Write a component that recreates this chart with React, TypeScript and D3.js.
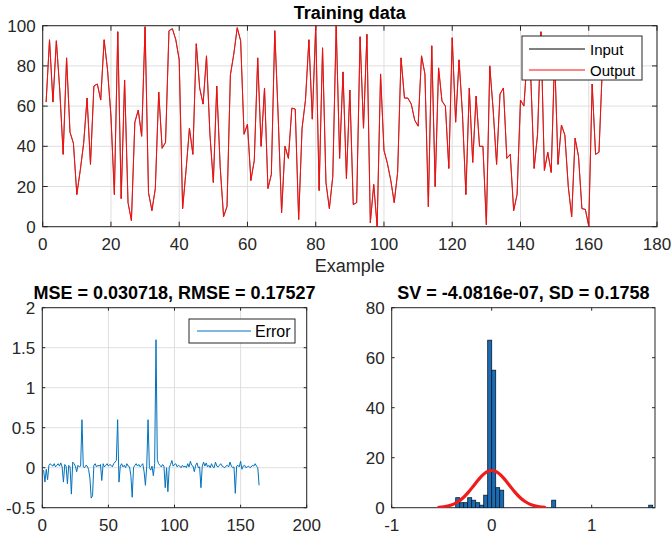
import React from 'react';
import * as d3 from 'd3';

// ---------- DATA ----------
const TRAINING = [
  62, 93, 62, 92.5, 68, 36, 84, 47, 41.5, 16, 28, 41.5, 64, 31, 70, 71, 63, 93, 78, 55,
  16, 97, 14, 73, 12, 3, 52, 58, 45, 99.5, 17, 8, 19, 67, 39, 42, 97.5, 98.5, 93, 83,
  9, 28, 49, 36, 91, 69, 61, 85, 46, 22, 70, 30, 5, 10, 75.5, 86, 99, 92.5, 46, 51,
  23, 33, 84, 40, 69, 19, 26, 97.5, 55, 7, 40, 34, 59, 58.5, 3.6, 49, 63, 93, 53.5, 100,
  18, 89, 22, 9, 25, 100, 34, 77, 24, 68, 11, 12, 94.5, 49, 95.7, 2, 21, 0, 76, 38,
  31.5, 23, 12, 27, 84, 64, 64, 61, 53, 50, 85, 76, 10, 90, 20, 79, 62.5, 60, 29, 94,
  52, 83, 56, 16, 69, 32, 65, 40, 40, 1, 80, 58, 31, 66, 69, 34, 36, 8, 16, 63,
  60, 85, 75, 29, 46, 97, 28, 37, 27, 85, 31, 50.6, 45.6, 20, 5, 44, 35, 9, 8.6, 0.3,
  71, 36, 37, 80,
];

const ERRORS = [
  -0.03, -0.18, -0.02, -0.15, 0.03, 0.05, 0.03, 0.02, 0.05, 0.01, 0.03, 0.05, 0.02, 0.06, 0.01, -0.18, 0.04, 0.02, -0.2, 0.03,
  0.01, -0.33, 0.07, 0.05, 0.02, -0.05, 0.03, 0.01, 0.02, 0.6, 0.01, 0.0, 0.03, 0.02, -0.02, -0.13, -0.38, -0.35, 0.03, 0.05,
  0.01, 0.03, 0.02, 0.04, -0.16, 0.05, 0.01, 0.03, 0.05, 0.02, 0.04, 0.03, 0.01, 0.05, 0.07, 0.09, 0.6, -0.18, 0.02, 0.05,
  0.01, 0.03, 0.0, 0.05, 0.02, 0.01, -0.1, -0.37, 0.0, 0.03, 0.05, 0.02, 0.04, 0.01, 0.03, 0.05, -0.05, -0.22, 0.02, 0.6,
  0.0, -0.03, 0.02, -0.1, 0.05, 1.6, 0.1, 0.05, 0.03, 0.01, 0.04, 0.02, -0.25, 0.0, -0.3, 0.0, 0.04, 0.09, 0.02, 0.04,
  0.05, 0.01, 0.03, 0.02, 0.0, 0.03, 0.01, 0.02, 0.0, 0.05, 0.01, 0.08, 0.03, 0.02, -0.05, 0.03, 0.06, 0.0, 0.01, -0.25,
  0.02, 0.07, 0.02, 0.06, 0.01, 0.03, 0.0, 0.05, 0.01, 0.0, 0.07, 0.02, 0.01, 0.03, 0.05, 0.02, 0.01, 0.0, 0.02, 0.03,
  0.01, 0.07, 0.02, 0.0, 0.01, -0.32, 0.02, 0.03, 0.01, 0.08, -0.02, 0.02, 0.03, 0.0, 0.01, 0.02, 0.0, 0.01, 0.03, 0.02,
  0.05, 0.02, 0.0, -0.22,
];

const HIST_LEFT = [-0.36, -0.32, -0.28, -0.24, -0.2, -0.16, -0.12, -0.08, -0.04, 0, 0.04, 0.08, 0.6, 1.57];
const HIST_COUNTS = [4, 2, 2, 4, 3, 2, 1, 5, 67, 55, 8, 7, 3, 1];
const HIST_BIN = 0.04;

const FIT_X = [-0.53, -0.48, -0.43, -0.38, -0.33, -0.28, -0.23, -0.18, -0.13, -0.08, -0.03, 0,
  0.03, 0.08, 0.13, 0.18, 0.23, 0.28, 0.33, 0.38, 0.43, 0.48, 0.53];
const FIT_Y = [0.16, 0.36, 0.75, 1.44, 2.56, 4.19, 6.33, 8.82, 11.33, 13.43, 14.67, 14.89,
  14.67, 13.43, 11.33, 8.82, 6.33, 4.19, 2.56, 1.44, 0.75, 0.36, 0.16];

const TOP_X_TICKS = [0, 20, 40, 60, 80, 100, 120, 140, 160, 180];
const TOP_Y_TICKS = [0, 20, 40, 60, 80, 100];
const ERR_X_TICKS = [0, 50, 100, 150, 200];
const ERR_Y_TICKS = [-0.5, 0, 0.5, 1, 1.5, 2];
const HIST_X_TICKS = [-1, 0, 1];
const HIST_Y_TICKS = [0, 20, 40, 60, 80];

const TITLE_TOP = 'Training data';
const TITLE_ERR = 'MSE = 0.030718, RMSE = 0.17527';
const TITLE_HIST = 'SV = -4.0816e-07, SD = 0.1758';
const X_LABEL_TOP = 'Example';
const LEGEND_TOP = ['Input', 'Output'];
const LEGEND_ERR = ['Error'];

// ---------- STYLE ----------
const FONT = "'Liberation Sans', Arial, Helvetica, sans-serif";
const AXIS_COLOR = '#262626';
const GRID_COLOR = '#dfdfdf';
const BLUE = '#0072BD';
const RED = '#ff0a0a';

type AxesProps = {
  x: d3.ScaleLinear<number, number>;
  y: d3.ScaleLinear<number, number>;
  xTicks: number[];
  yTicks: number[];
  grid: boolean;
  tickLen?: number;
};

function Axes({ x, y, xTicks, yTicks, grid, tickLen = 4 }: AxesProps) {
  const [x0, x1] = x.range();
  const [y0, y1] = y.range(); // y0 bottom, y1 top
  return (
    <g>
      {grid && xTicks.map((t) => (
        <line key={'gx' + t} x1={x(t)} x2={x(t)} y1={y0} y2={y1} stroke={GRID_COLOR} strokeWidth={1} />
      ))}
      {grid && yTicks.map((t) => (
        <line key={'gy' + t} x1={x0} x2={x1} y1={y(t)} y2={y(t)} stroke={GRID_COLOR} strokeWidth={1} />
      ))}
      <rect x={x0} y={y1} width={x1 - x0} height={y0 - y1} fill="none" stroke={AXIS_COLOR} strokeWidth={1} />
      {xTicks.map((t) => (
        <g key={'tx' + t}>
          <line x1={x(t)} x2={x(t)} y1={y0} y2={y0 - tickLen} stroke={AXIS_COLOR} />
          <line x1={x(t)} x2={x(t)} y1={y1} y2={y1 + tickLen} stroke={AXIS_COLOR} />
          <text x={x(t)} y={y0 + 23} textAnchor="middle" fontSize={17} fill={AXIS_COLOR} fontFamily={FONT}>{t}</text>
        </g>
      ))}
      {yTicks.map((t) => (
        <g key={'ty' + t}>
          <line x1={x0} x2={x0 + tickLen} y1={y(t)} y2={y(t)} stroke={AXIS_COLOR} />
          <line x1={x1} x2={x1 - tickLen} y1={y(t)} y2={y(t)} stroke={AXIS_COLOR} />
          <text x={x0 - 7} y={y(t) + 6} textAnchor="end" fontSize={17} fill={AXIS_COLOR} fontFamily={FONT}>{t}</text>
        </g>
      ))}
    </g>
  );
}

export default function App() {
  // Top chart
  const tx = d3.scaleLinear().domain([0, 180]).range([42.7, 657]);
  const ty = d3.scaleLinear().domain([0, 100]).range([226.7, 25.7]);
  const topLine = d3.line<number>().x((_, i) => tx(i + 1)).y((d) => ty(d));

  // Error chart
  const ex = d3.scaleLinear().domain([0, 200]).range([42.3, 306.7]);
  const ey = d3.scaleLinear().domain([-0.5, 2]).range([507.7, 307.7]);
  const errLine = d3.line<number>().x((_, i) => ex(i + 1)).y((d) => ey(d));

  // Histogram chart
  const hx = d3.scaleLinear().domain([-1, 1.633]).range([391.7, 655]);
  const hy = d3.scaleLinear().domain([0, 80]).range([507.7, 307.7]);
  const fitLine = d3.line<number>().x((d) => hx(d)).y((_, i) => hy(FIT_Y[i])).curve(d3.curveCatmullRom);

  return (
    <svg width={672} height={540} style={{ position: 'absolute', left: 0, top: 0, background: '#fff' }}>
      <defs>
        <clipPath id="clipTop"><rect x={42.7} y={25.7} width={657 - 42.7} height={226.7 - 25.7} /></clipPath>
        <clipPath id="clipErr"><rect x={42.3} y={307.7} width={306.7 - 42.3} height={200} /></clipPath>
        <clipPath id="clipHist"><rect x={391.7} y={307.7} width={655 - 391.7} height={200} /></clipPath>
      </defs>
      <rect x={0} y={0} width={672} height={540} fill="#fff" />

      {/* ---------- Top: Training data ---------- */}
      <Axes x={tx} y={ty} xTicks={TOP_X_TICKS} yTicks={TOP_Y_TICKS} grid={true} tickLen={5} />
      <g clipPath="url(#clipTop)">
        <path d={topLine(TRAINING) || ''} fill="none" stroke="#000" strokeWidth={0.6} />
        <path d={topLine(TRAINING) || ''} fill="none" stroke={RED} strokeWidth={1} />
      </g>
      <text x={(42.7 + 657) / 2} y={19} textAnchor="middle" fontSize={18} fontWeight="bold" fill="#000" fontFamily={FONT}>{TITLE_TOP}</text>
      <text x={(42.7 + 657) / 2} y={272} textAnchor="middle" fontSize={18} fill={AXIS_COLOR} fontFamily={FONT}>{X_LABEL_TOP}</text>
      {/* legend */}
      <g>
        <rect x={522} y={36} width={120} height={44} fill="#fff" stroke={AXIS_COLOR} strokeWidth={1} />
        <line x1={529} x2={585} y1={49} y2={49} stroke="#000" strokeWidth={1} />
        <text x={590} y={54.5} fontSize={15} fill="#000" fontFamily={FONT}>{LEGEND_TOP[0]}</text>
        <line x1={529} x2={585} y1={70} y2={70} stroke={RED} strokeWidth={1} />
        <text x={590} y={75.5} fontSize={15} fill="#000" fontFamily={FONT}>{LEGEND_TOP[1]}</text>
      </g>

      {/* ---------- Bottom left: Error ---------- */}
      <Axes x={ex} y={ey} xTicks={ERR_X_TICKS} yTicks={ERR_Y_TICKS} grid={true} tickLen={3} />
      <g clipPath="url(#clipErr)">
        <path d={errLine(ERRORS) || ''} fill="none" stroke={BLUE} strokeWidth={1} />
      </g>
      <text x={(42.3 + 306.7) / 2} y={298.5} textAnchor="middle" fontSize={18} fontWeight="bold" fill="#000" fontFamily={FONT}>{TITLE_ERR}</text>
      <g>
        <rect x={189} y={319} width={106} height={24} fill="#fff" stroke={AXIS_COLOR} strokeWidth={1} />
        <line x1={197} x2={251} y1={331} y2={331} stroke={BLUE} strokeWidth={1} />
        <text x={255} y={337} fontSize={16} fill="#000" fontFamily={FONT}>{LEGEND_ERR[0]}</text>
      </g>

      {/* ---------- Bottom right: Histogram ---------- */}
      <Axes x={hx} y={hy} xTicks={HIST_X_TICKS} yTicks={HIST_Y_TICKS} grid={false} tickLen={3} />
      <g clipPath="url(#clipHist)">
        {HIST_LEFT.map((l, i) => (
          <rect key={'b' + i} x={hx(l)} y={hy(HIST_COUNTS[i])} width={hx(l + HIST_BIN) - hx(l)}
            height={hy(0) - hy(HIST_COUNTS[i])} fill="#1a6db5" stroke="#0a1a2a" strokeWidth={0.8} />
        ))}
        <path d={fitLine(FIT_X) || ''} fill="none" stroke="#f01c1c" strokeWidth={3.2} strokeLinecap="round" />
      </g>
      <text x={(391.7 + 655) / 2} y={298.5} textAnchor="middle" fontSize={18} fontWeight="bold" fill="#000" fontFamily={FONT}>{TITLE_HIST}</text>
    </svg>
  );
}
